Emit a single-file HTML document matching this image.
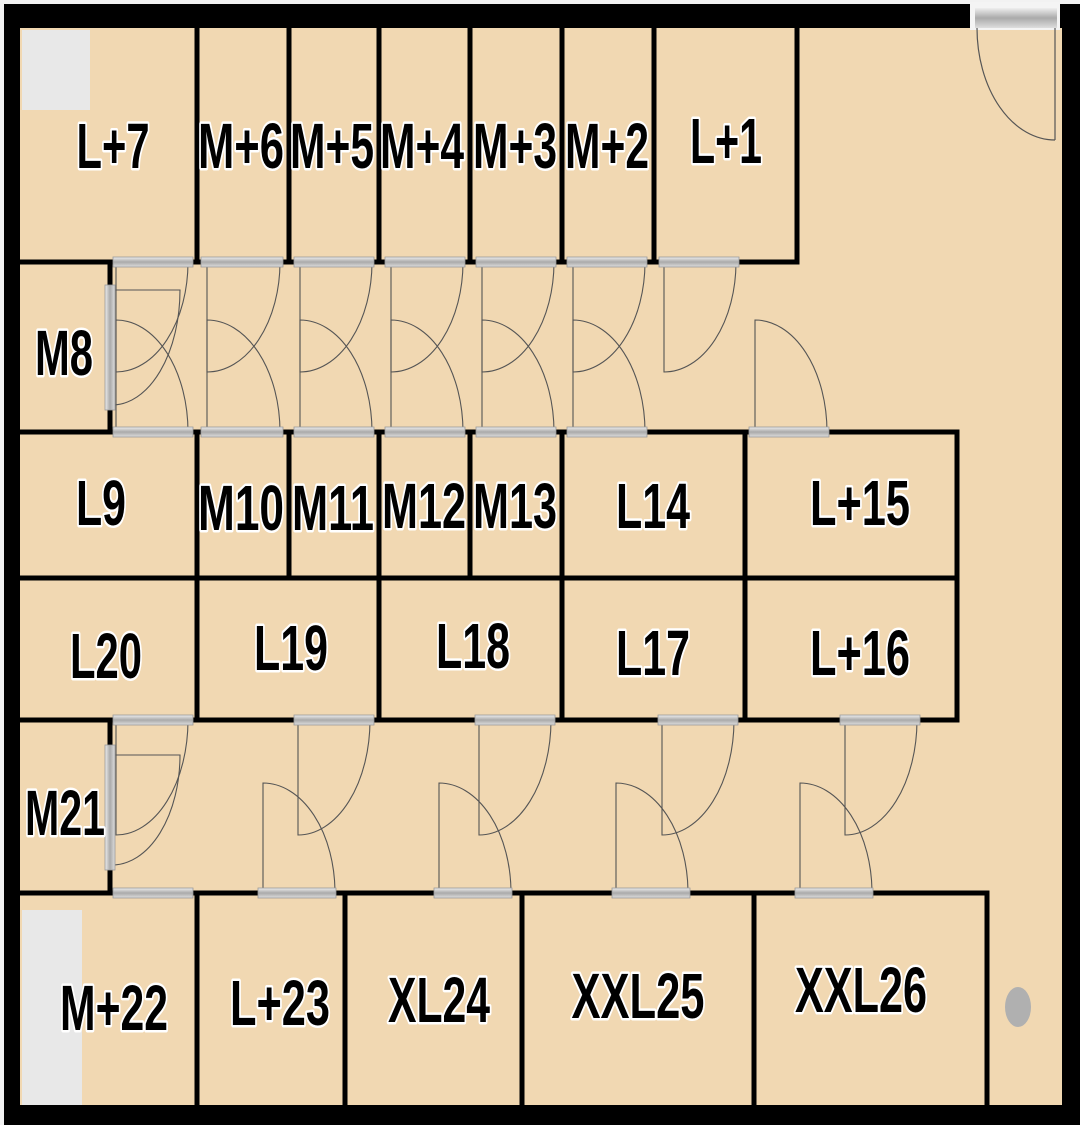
<!DOCTYPE html>
<html><head><meta charset="utf-8"><style>
html,body{margin:0;padding:0;background:#fff;}
svg{display:block}
text{font-family:"Liberation Sans",Arial,sans-serif;font-weight:bold;font-size:64px;fill:#000;stroke:#fff;stroke-width:5px;paint-order:stroke;stroke-linejoin:round;text-anchor:middle}
</style></head><body>
<svg width="1080" height="1125" viewBox="0 0 1080 1125" xmlns="http://www.w3.org/2000/svg">
<defs>
<linearGradient id="dg" x1="0" y1="0" x2="0" y2="1"><stop offset="0" stop-color="#eee"/><stop offset="0.5" stop-color="#aaa"/><stop offset="1" stop-color="#ddd"/></linearGradient>
<linearGradient id="dgv" x1="0" y1="0" x2="1" y2="0"><stop offset="0" stop-color="#eee"/><stop offset="0.5" stop-color="#aaa"/><stop offset="1" stop-color="#ddd"/></linearGradient>
</defs>
<rect x="0" y="0" width="1080" height="1125" fill="#f2f2f2"/>
<rect x="4" y="4" width="1076" height="1121" fill="#000"/>
<rect x="20" y="28" width="1042" height="1077" fill="#f1d8b2"/>
<rect x="970" y="2" width="90" height="28" fill="#f4f4f4"/>
<rect x="975" y="8" width="82" height="20" fill="url(#dg)"/>
<g fill="none" stroke="#555" stroke-width="1.2">
<line x1="1055" y1="28" x2="1055" y2="140"/>
<path d="M977,28 A78,112 0 0 0 1055,140"/>
</g>
<rect x="22" y="30" width="68" height="80" fill="#e8e8e8"/>
<rect x="22" y="910" width="60" height="195" fill="#e8e8e8"/>
<ellipse cx="1018" cy="1007" rx="13" ry="20" fill="#b0b0b0"/>
<g stroke="#000" stroke-width="5" fill="none">
<line x1="197" y1="28" x2="197" y2="262"/>
<line x1="289" y1="28" x2="289" y2="262"/>
<line x1="379" y1="28" x2="379" y2="262"/>
<line x1="470" y1="28" x2="470" y2="262"/>
<line x1="562" y1="28" x2="562" y2="262"/>
<line x1="654" y1="28" x2="654" y2="262"/>
<polyline points="797,28 797,262 20,262"/>
<line x1="110" y1="262" x2="110" y2="432"/>
<polyline points="20,432 957,432 957,720 20,720"/>
<line x1="20" y1="578" x2="957" y2="578"/>
<line x1="197" y1="432" x2="197" y2="720"/>
<line x1="289" y1="432" x2="289" y2="578"/>
<line x1="379" y1="432" x2="379" y2="720"/>
<line x1="470" y1="432" x2="470" y2="578"/>
<line x1="562" y1="432" x2="562" y2="720"/>
<line x1="745" y1="432" x2="745" y2="720"/>
<line x1="110" y1="720" x2="110" y2="893"/>
<polyline points="20,893 987,893 987,1105"/>
<line x1="197" y1="893" x2="197" y2="1105"/>
<line x1="345" y1="893" x2="345" y2="1105"/>
<line x1="522" y1="893" x2="522" y2="1105"/>
<line x1="754" y1="893" x2="754" y2="1105"/>
</g>
<g fill="none" stroke="#555" stroke-width="1.1">
<path d="M116,262 V372 A72,110 0 0 0 188,262"/>
<path d="M207,262 V372 A73,110 0 0 0 280,262"/>
<path d="M300,262 V372 A72,110 0 0 0 372,262"/>
<path d="M391,262 V372 A72,110 0 0 0 463,262"/>
<path d="M482,262 V372 A72,110 0 0 0 554,262"/>
<path d="M573,262 V372 A72,110 0 0 0 645,262"/>
<path d="M664,262 V372 A72,110 0 0 0 736,262"/>
<path d="M116,432 V320 A72,112 0 0 1 188,432"/>
<path d="M207,432 V320 A73,112 0 0 1 280,432"/>
<path d="M300,432 V320 A72,112 0 0 1 372,432"/>
<path d="M391,432 V320 A72,112 0 0 1 463,432"/>
<path d="M482,432 V320 A72,112 0 0 1 554,432"/>
<path d="M573,432 V320 A72,112 0 0 1 645,432"/>
<path d="M755,432 V320 A72,112 0 0 1 827,432"/>
<path d="M112,290 H180 A68,115 0 0 1 112,405"/>
<path d="M116,720 V835 A72,115 0 0 0 188,720"/>
<path d="M298,720 V835 A72,115 0 0 0 370,720"/>
<path d="M479,720 V835 A72,115 0 0 0 551,720"/>
<path d="M662,720 V835 A72,115 0 0 0 734,720"/>
<path d="M845,720 V835 A72,115 0 0 0 917,720"/>
<path d="M263,893 V783 A72,110 0 0 1 335,893"/>
<path d="M439,893 V783 A72,110 0 0 1 511,893"/>
<path d="M616,893 V783 A72,110 0 0 1 688,893"/>
<path d="M800,893 V783 A72,110 0 0 1 872,893"/>
<path d="M112,755 H180 A68,110 0 0 1 112,865"/>
</g>
<g fill="url(#dg)" stroke="#999" stroke-width="0.8">
<rect x="113" y="257" width="80" height="10"/><rect x="201" y="257" width="82" height="10"/><rect x="294" y="257" width="80" height="10"/><rect x="385" y="257" width="80" height="10"/><rect x="476" y="257" width="80" height="10"/><rect x="567" y="257" width="80" height="10"/><rect x="659" y="257" width="80" height="10"/>
<rect x="113" y="427" width="80" height="10"/><rect x="201" y="427" width="82" height="10"/><rect x="294" y="427" width="80" height="10"/><rect x="385" y="427" width="80" height="10"/><rect x="476" y="427" width="80" height="10"/><rect x="567" y="427" width="80" height="10"/><rect x="749" y="427" width="80" height="10"/>
<rect x="113" y="715" width="80" height="10"/><rect x="294" y="715" width="80" height="10"/><rect x="475" y="715" width="80" height="10"/><rect x="658" y="715" width="80" height="10"/><rect x="840" y="715" width="80" height="10"/>
<rect x="113" y="888" width="80" height="10"/><rect x="258" y="888" width="78" height="10"/><rect x="434" y="888" width="78" height="10"/><rect x="612" y="888" width="78" height="10"/><rect x="795" y="888" width="78" height="10"/>
</g>
<g fill="url(#dgv)" stroke="#999" stroke-width="0.8">
<rect x="105" y="285" width="10" height="125"/>
<rect x="105" y="745" width="10" height="125"/>
</g>
<text x="113" y="168" textLength="73" lengthAdjust="spacingAndGlyphs">L+7</text>
<text x="241" y="168" textLength="86" lengthAdjust="spacingAndGlyphs">M+6</text>
<text x="332" y="168" textLength="84" lengthAdjust="spacingAndGlyphs">M+5</text>
<text x="422" y="168" textLength="84" lengthAdjust="spacingAndGlyphs">M+4</text>
<text x="515" y="168" textLength="84" lengthAdjust="spacingAndGlyphs">M+3</text>
<text x="607" y="168" textLength="84" lengthAdjust="spacingAndGlyphs">M+2</text>
<text x="726" y="163" textLength="72" lengthAdjust="spacingAndGlyphs">L+1</text>
<text x="64" y="375" textLength="58" lengthAdjust="spacingAndGlyphs">M8</text>
<text x="101" y="525" textLength="50" lengthAdjust="spacingAndGlyphs">L9</text>
<text x="241" y="530" textLength="86" lengthAdjust="spacingAndGlyphs">M10</text>
<text x="333" y="530" textLength="82" lengthAdjust="spacingAndGlyphs">M11</text>
<text x="424" y="528" textLength="84" lengthAdjust="spacingAndGlyphs">M12</text>
<text x="515" y="528" textLength="84" lengthAdjust="spacingAndGlyphs">M13</text>
<text x="653" y="528" textLength="74" lengthAdjust="spacingAndGlyphs">L14</text>
<text x="860" y="525" textLength="100" lengthAdjust="spacingAndGlyphs">L+15</text>
<text x="106" y="678" textLength="72" lengthAdjust="spacingAndGlyphs">L20</text>
<text x="291" y="670" textLength="74" lengthAdjust="spacingAndGlyphs">L19</text>
<text x="473" y="668" textLength="74" lengthAdjust="spacingAndGlyphs">L18</text>
<text x="653" y="675" textLength="74" lengthAdjust="spacingAndGlyphs">L17</text>
<text x="860" y="675" textLength="100" lengthAdjust="spacingAndGlyphs">L+16</text>
<text x="65" y="835" textLength="80" lengthAdjust="spacingAndGlyphs">M21</text>
<text x="114" y="1030" textLength="108" lengthAdjust="spacingAndGlyphs">M+22</text>
<text x="280" y="1025" textLength="100" lengthAdjust="spacingAndGlyphs">L+23</text>
<text x="439" y="1022" textLength="102" lengthAdjust="spacingAndGlyphs">XL24</text>
<text x="638" y="1018" textLength="133" lengthAdjust="spacingAndGlyphs">XXL25</text>
<text x="861" y="1012" textLength="132" lengthAdjust="spacingAndGlyphs">XXL26</text>
</svg>
</body></html>
